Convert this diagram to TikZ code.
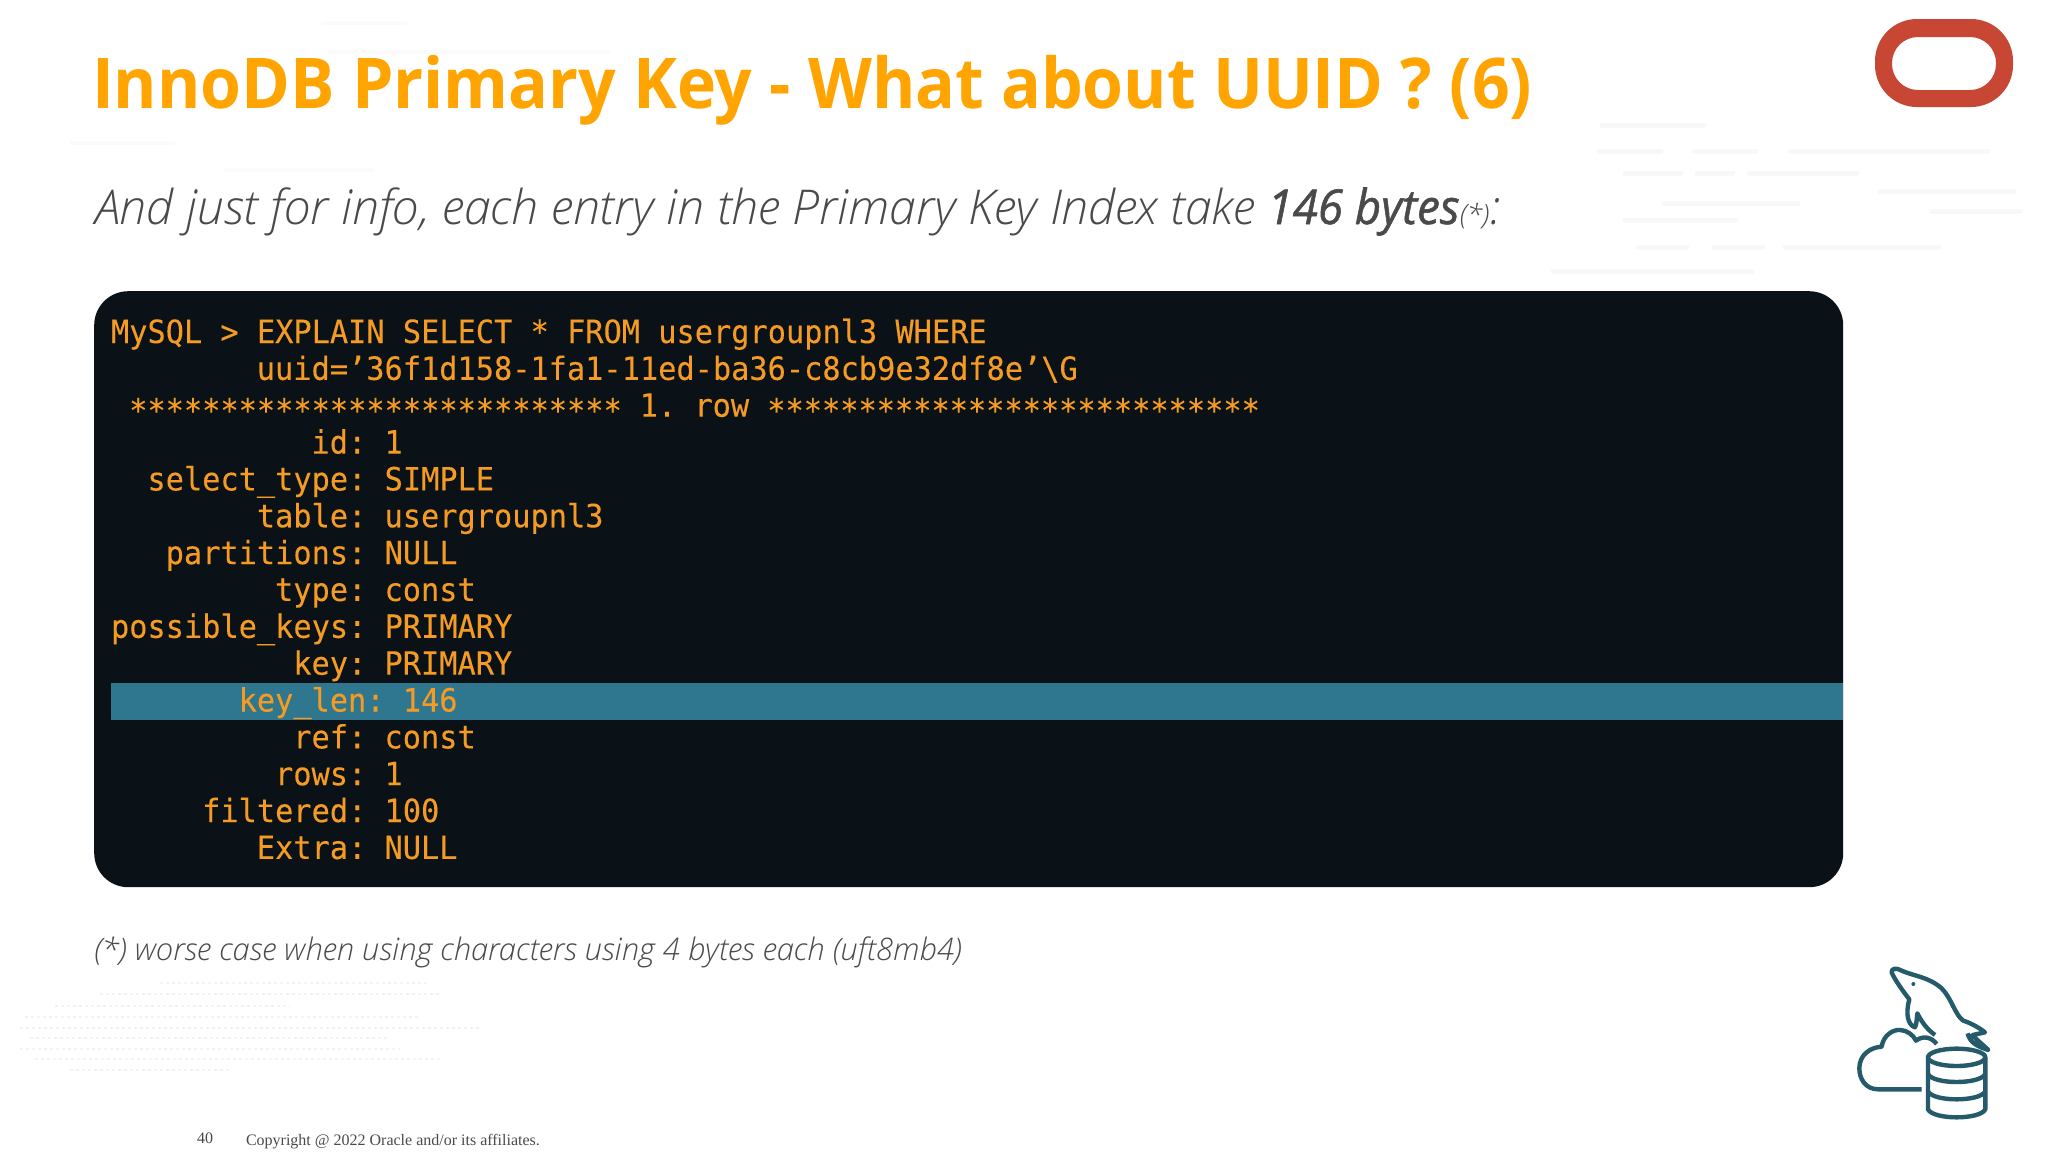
\documentclass[tikz,border=0pt]{standalone}
\usepackage{fontspec}
\setmainfont{Open Sans}
\newfontfamily\lightf{Open Sans Light}[ItalicFont=Open Sans Light Italic]
\newfontfamily\midf{Open Sans}[ItalicFeatures={FakeBold=1.2}]
\newfontfamily\codef{DejaVu Sans Mono}[FakeStretch=0.947,FakeBold=0.15]
\newfontfamily\footf{Liberation Serif}
\definecolor{titleor}{HTML}{FFA400}
\definecolor{codeor}{HTML}{F59B23}
\definecolor{boxbg}{HTML}{0A1218}
\definecolor{hilite}{HTML}{2F768F}
\definecolor{subgray}{HTML}{4A4A4A}
\definecolor{oraclered}{HTML}{C74634}
\definecolor{teal}{HTML}{255A6B}
\definecolor{ghostc}{HTML}{F7F8F9}
\definecolor{ghostf}{HTML}{FBFBFC}
\definecolor{ghostd}{HTML}{F3F3F3}
\tikzset{
  txt/.style={anchor=base west,inner sep=0pt,outer sep=0pt},
  code/.style={txt,text=codeor,font=\codef\fontsize{32}{37}\selectfont},
  ghost/.style={line width=5pt,line cap=round,ghostc},
  ghostfaint/.style={line width=4pt,line cap=round,ghostf},
  ghostdots/.style={line width=2.5pt,ghostd,dash pattern=on 3pt off 3pt},
  icon/.style={teal,line width=4.4pt,line join=round,line cap=butt},
}
\begin{document}
\begin{tikzpicture}[x=1pt,y=-1pt]
\useasboundingbox (0,0) rectangle (2048,1152);
\fill[white] (0,0) rectangle (2048,1152);
% faint background
\foreach \a/\b/\c in {1602/1704/125,1599/1661/151,1694/1756/151,1790/1988/151,1625/1681/173,1697/1733/173,1749/1857/173,1880/2014/191,1664/1798/203,1932/2020/211,1625/1736/220,1638/1687/247,1714/1763/247,1785/1939/247,1553/1752/271}
  \draw[ghost] (\a,\c) -- (\b,\c);
\foreach \a/\b/\c in {323/405/23,330/608/52,72/173/143,225/372/170}
  \draw[ghostfaint] (\a,\c) -- (\b,\c);
\foreach \a/\b/\c in {160/430/983,100/440/994,55/290/1006,25/420/1017,20/480/1028,30/390/1038,20/400/1049,35/440/1059,70/230/1070}
  \draw[ghostdots] (\a,\c) -- (\b,\c);
% title
\node[txt,text=titleor,font=\bfseries\fontsize{70}{84}\selectfont] (title) at (92,108) {\scalebox{0.944}[1]{InnoDB Primary Key - What about UUID ? (6)}};
% subtitle
\node[txt,text=subgray,font=\lightf\itshape\fontsize{48}{58}\selectfont] (sub) at (95,224) {\scalebox{1.005}[1]{And just for info, each entry in the Primary Key Index take} \scalebox{0.95}[1]{\midf\itshape 146 bytes}{\fontsize{28}{30}\selectfont(*)}:};
% code box
\node[draw=none,fill=boxbg,rounded corners=34pt,minimum width=1749pt,minimum height=596pt,anchor=north west,inner sep=0pt] (box) at (94,291) {};
\fill[hilite] (111,683) rectangle (1843,720);
\def\cw{18.23}
\def\ln{36.85}
\def\bl{343}
\node[code] (l0) at ({111+0*\cw},{\bl+0*\ln}) {MySQL > EXPLAIN SELECT * FROM usergroupnl3 WHERE};
\node[code] (l1) at ({111+8*\cw},{\bl+1*\ln}) {uuid=’36f1d158-1fa1-11ed-ba36-c8cb9e32df8e’\textbackslash G};
\node[code] (l2a) at ({111+1*\cw},{\bl+2*\ln+5}) {***************************};
\node[code] (l2b) at ({111+29*\cw},{\bl+2*\ln}) {1.\ row};
\node[code] (l2c) at ({111+36*\cw},{\bl+2*\ln+5}) {***************************};
\node[code] (l3) at ({111+11*\cw},{\bl+3*\ln}) {id:\ 1};
\node[code] (l4) at ({111+2*\cw},{\bl+4*\ln}) {select\_type:\ SIMPLE};
\node[code] (l5) at ({111+8*\cw},{\bl+5*\ln}) {table:\ usergroupnl3};
\node[code] (l6) at ({111+3*\cw},{\bl+6*\ln}) {partitions:\ NULL};
\node[code] (l7) at ({111+9*\cw},{\bl+7*\ln}) {type:\ const};
\node[code] (l8) at ({111+0*\cw},{\bl+8*\ln}) {possible\_keys:\ PRIMARY};
\node[code] (l9) at ({111+10*\cw},{\bl+9*\ln}) {key:\ PRIMARY};
\node[code] (l10) at ({111+7*\cw},{\bl+10*\ln}) {key\_len:\ 146};
\node[code] (l11) at ({111+10*\cw},{\bl+11*\ln}) {ref:\ const};
\node[code] (l12) at ({111+9*\cw},{\bl+12*\ln}) {rows:\ 1};
\node[code] (l13) at ({111+5*\cw},{\bl+13*\ln}) {filtered:\ 100};
\node[code] (l14) at ({111+8*\cw},{\bl+14*\ln}) {Extra:\ NULL};
% footnote
\node[txt,text=subgray,font=\lightf\itshape\fontsize{31}{36}\selectfont] (note) at (94,960) {(*) worse case when using characters using 4 bytes each (uft8mb4)};
% footer
\node[txt,text=subgray,font=\footf\fontsize{16}{20}\selectfont] (pg) at (197,1143) {40};
\node[txt,text=subgray,font=\footf\fontsize{16}{20}\selectfont] (copy) at (246,1145) {Copyright @ 2022 Oracle and/or its affiliates.};
% Oracle logo
\fill[oraclered,even odd rule,rounded corners=42pt] (1875,19) rectangle (2013,107)
  [rounded corners=26pt] (1892,37) rectangle (1996,90);
% MySQL icon
\begin{scope}[shift={(1800,950)},scale=0.3333]
 \draw[icon] (405,255) .. controls (385,240) and (370,225) .. (352,190)
   .. controls (350,210) and (350,220) .. (345,232)
   .. controls (325,225) and (315,195) .. (328,148)
   .. controls (310,125) and (285,90) .. (275,68)
   .. controls (272,55) and (290,52) .. (305,62)
   .. controls (340,78) and (385,80) .. (425,115)
   .. controls (455,145) and (465,195) .. (490,212)
   .. controls (515,220) and (540,235) .. (555,247)
   -- (518,255) .. controls (535,275) and (550,285) .. (565,300)
   .. controls (535,290) and (510,280) .. (503,250);
 \fill[teal] (340,102) circle (6);
 \draw[icon] (365,418) -- (235,418) .. controls (195,418) and (178,385) .. (178,355)
   .. controls (178,315) and (210,292) .. (245,290)
   .. controls (250,255) and (280,238) .. (300,240)
   .. controls (320,240) and (340,255) .. (348,272)
   .. controls (370,255) and (395,262) .. (410,282);
 \draw[icon] (470,322) ellipse (86 and 26);
 \draw[icon] (384,322) -- (384,478) .. controls (400,510) and (540,510) .. (556,478) -- (556,322);
 \draw[icon] (384,372) .. controls (400,404) and (540,404) .. (556,372);
 \draw[icon] (384,424) .. controls (400,456) and (540,456) .. (556,424);
\end{scope}
\end{tikzpicture}
\end{document}
